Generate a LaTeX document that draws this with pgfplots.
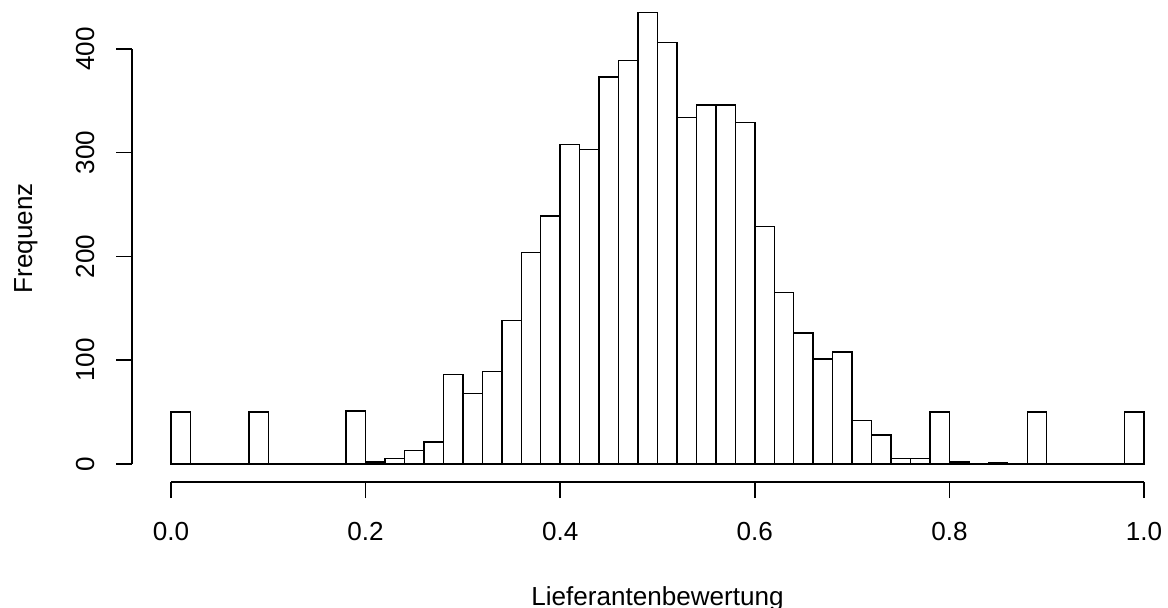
\documentclass[border=0pt]{standalone}
\usepackage{pgfplots}
\pgfplotsset{compat=1.18}
\usepackage{fontspec}
\setmainfont{Liberation Sans}
\begin{document}
\fontsize{12}{14}\selectfont
\begin{tikzpicture}
\begin{axis}[
  scale only axis,
  width=483.4pt, height=224.2pt,
  xmin=-0.04, xmax=1.04, ymin=-17.4, ymax=452.4,
  separate axis lines,
  axis x line*=bottom, axis y line*=left,
  x axis line style={draw=none}, y axis line style={draw=none},
  clip=false,
  tick align=outside,
  major tick length=7.4pt,
  tick style={black, line width=0.65pt},
  xtick={0,0.2,0.4,0.6,0.8,1},
  xticklabels={0.0,0.2,0.4,0.6,0.8,1.0},
  ytick={0,100,200,300,400},
  yticklabels={0,100,200,300,400},
  /pgf/number format/assume math mode=true,
  xticklabel style={anchor=north, inner sep=0pt},
  yticklabel style={rotate=90, anchor=base, inner sep=0pt},
  xticklabel shift=11pt,
  yticklabel shift=10.1pt,
  xlabel={Lieferantenbewertung},
  ylabel={Frequenz},
  xlabel style={at={(axis description cs:0.5,-0.2525)}, anchor=base, inner sep=0pt},
  ylabel style={at={(axis description cs:-0.0952,0.5)}, anchor=base, rotate=0, inner sep=0pt},
]
\addplot[ybar interval, fill=white, draw=black, line width=0.65pt] coordinates {
(0.00,50) (0.02,0) (0.04,0) (0.06,0) (0.08,50) (0.10,0) (0.12,0) (0.14,0) (0.16,0) (0.18,51)
(0.20,2) (0.22,5) (0.24,13) (0.26,21) (0.28,86) (0.30,68) (0.32,89) (0.34,138) (0.36,204) (0.38,239)
(0.40,308) (0.42,303) (0.44,373) (0.46,389) (0.48,435) (0.50,406) (0.52,334) (0.54,346) (0.56,346) (0.58,329)
(0.60,229) (0.62,165) (0.64,126) (0.66,101) (0.68,108) (0.70,42) (0.72,28) (0.74,5) (0.76,5) (0.78,50)
(0.80,2) (0.82,0) (0.84,1) (0.86,0) (0.88,50) (0.90,0) (0.92,0) (0.94,0) (0.96,0) (0.98,50)
(1.00,50)
};
\draw[black, line width=0.65pt] (axis cs:0,-17.4) -- (axis cs:1,-17.4);
\draw[black, line width=0.65pt] (axis cs:-0.04,0) -- (axis cs:-0.04,400);
\end{axis}
\pgfresetboundingbox
\useasboundingbox ([xshift=-60.77pt,yshift=-57.94pt]current axis.south west) rectangle ([xshift=-6.85pt,yshift=-2.48pt]current axis.north east);
\end{tikzpicture}
\end{document}
